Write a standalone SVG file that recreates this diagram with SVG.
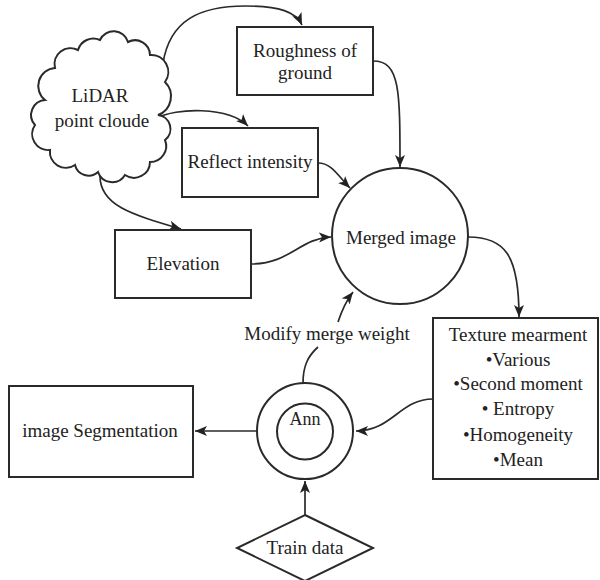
<svg xmlns="http://www.w3.org/2000/svg" width="600" height="580" viewBox="0 0 600 580">
<defs>
<marker id="ah" markerUnits="userSpaceOnUse" markerWidth="14" markerHeight="12" refX="12" refY="5" orient="auto">
<path d="M0,0 L12,5 L0,10 L3,5 z" fill="#222"/>
</marker>
<style>
.shape{fill:#fff;stroke:#2a2a2a;stroke-width:2}
.conn{fill:none;stroke:#2a2a2a;stroke-width:1.7}
.arr{marker-end:url(#ah)}
.t{font-family:'Liberation Serif','DejaVu Serif',serif;font-size:19px;fill:#222;text-anchor:middle}
</style>
</defs>
<rect width="600" height="580" fill="#fff"/>
<g id="connectors">
<path class="conn arr" d="M163,63 C170,20 200,6 245,6 C280,6 296,12 302,25"/>
<path class="conn arr" d="M157,118 C175,108 228,106 248,126"/>
<path class="conn arr" d="M100,176 C100,205 130,214 181,229"/>
<path class="conn arr" d="M373,61 C400,61 400,90 400,167"/>
<path class="conn arr" d="M318,163 C332,163 338,176 350,188"/>
<path class="conn arr" d="M251,264 C290,264 300,238 331,237"/>
<path class="conn arr" d="M468,237 C505,237 519,255 519,317"/>
<path class="conn arr" d="M433,399 C400,399 392,431 356,431"/>
<path class="conn" d="M303,383 C303,366 308,356 318,347"/>
<path class="conn arr" d="M338,322 C342,310 346,301 353,292"/>
<path class="conn arr" d="M257,431 L195,431"/>
<path class="conn arr" d="M305,515 L305,481"/>
</g>
<g id="lidar">
<path class="shape" d="M45,100 A18,18 0 0 1 55,68 A16,16 0 0 1 78,50 A16,16 0 0 1 100,40 A15,15 0 0 1 128,42 A15,15 0 0 1 150,55 A17,17 0 0 1 165,82 A20,20 0 0 1 158,115 A14,14 0 0 1 165,140 A16,16 0 0 1 150,162 A16,16 0 0 1 125,175 A15,15 0 0 1 98,172 A14,14 0 0 1 75,165 A16,16 0 0 1 50,150 A16,16 0 0 1 35,125 A15,15 0 0 1 45,100 Z"/>
<text class="t" font-family="Liberation Serif, serif" x="100" y="102">LiDAR</text>
<text class="t" font-family="Liberation Serif, serif" x="102" y="127">point cloude</text>
</g>
<g id="roughness">
<rect class="shape" x="237" y="27" width="136" height="68"/>
<text class="t" font-family="Liberation Serif, serif" x="305" y="57">Roughness of</text>
<text class="t" font-family="Liberation Serif, serif" x="305" y="79">ground</text>
</g>
<g id="reflect">
<rect class="shape" x="182" y="128" width="136" height="69"/>
<text class="t" font-family="Liberation Serif, serif" x="250" y="168">Reflect intensity</text>
</g>
<g id="elevation">
<rect class="shape" x="115" y="230" width="136" height="68"/>
<text class="t" font-family="Liberation Serif, serif" x="183" y="270">Elevation</text>
</g>
<g id="merged">
<circle class="shape" cx="400" cy="236" r="68"/>
<text class="t" font-family="Liberation Serif, serif" x="401" y="244">Merged image</text>
</g>
<g id="texture">
<rect class="shape" x="433" y="318" width="165" height="161"/>
<text class="t" font-family="Liberation Serif, serif" x="518" y="341">Texture mearment</text>
<text class="t" font-family="Liberation Serif, serif" x="518" y="366">•Various</text>
<text class="t" font-family="Liberation Serif, serif" x="518" y="390">•Second moment</text>
<text class="t" font-family="Liberation Serif, serif" x="518" y="415">• Entropy</text>
<text class="t" font-family="Liberation Serif, serif" x="518" y="441">•Homogeneity</text>
<text class="t" font-family="Liberation Serif, serif" x="518" y="466">•Mean</text>
</g>
<g id="modify-label">
<text class="t" font-family="Liberation Serif, serif" x="327" y="340">Modify merge weight</text>
</g>
<g id="ann">
<circle class="shape" cx="305" cy="431" r="48"/>
<circle class="shape" cx="305" cy="431.5" r="28"/>
<text class="t" font-family="Liberation Serif, serif" x="305" y="425" style="font-size:18px">Ann</text>
</g>
<g id="segmentation">
<rect class="shape" x="9" y="386" width="184" height="91"/>
<text class="t" font-family="Liberation Serif, serif" x="100" y="437">image Segmentation</text>
</g>
<g id="train">
<path class="shape" d="M305,515 L373,548 L305,581 L237,548 Z"/>
<text class="t" font-family="Liberation Serif, serif" x="305" y="554">Train data</text>
</g>
</svg>
